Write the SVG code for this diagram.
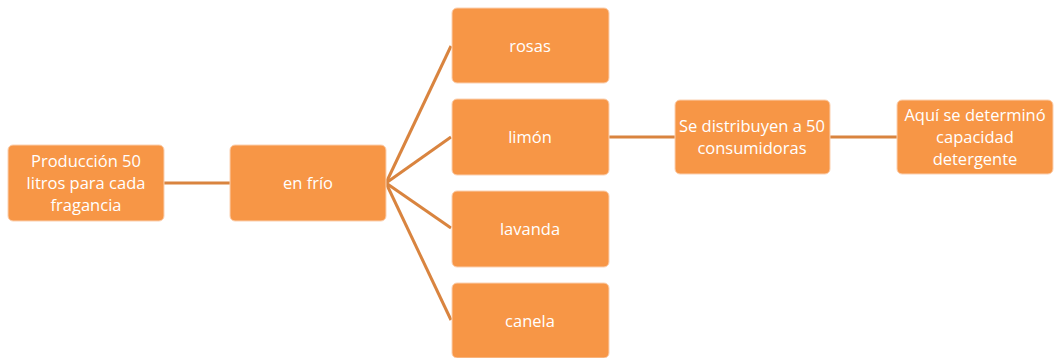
<svg xmlns="http://www.w3.org/2000/svg" width="1055" height="358" viewBox="0 0 1055 358">
<style>
.box{fill:#F79646;stroke:#FBD0B0;stroke-width:1}
.t{fill:#FFFFFF;font-family:"Open Sans","Liberation Sans",sans-serif;font-size:16.5px;text-anchor:middle}
.c{stroke:#D9843F;stroke-width:3;fill:none}
</style>
<rect width="1055" height="358" fill="#FFFFFF"/>
<g id="connectors">
<line class="c" x1="164" y1="183" x2="230" y2="183"/>
<line class="c" x1="386" y1="183" x2="451" y2="46"/>
<line class="c" x1="386" y1="183" x2="451" y2="137"/>
<line class="c" x1="386" y1="183" x2="451" y2="228"/>
<line class="c" x1="386" y1="183" x2="451" y2="320"/>
<line class="c" x1="609" y1="137" x2="675" y2="137"/>
<line class="c" x1="830" y1="137" x2="897" y2="137"/>
</g>
<g id="n-produccion">
<rect class="box" x="8" y="145" width="156" height="76" rx="5"/>
<text class="t" x="86" y="167">Producción 50</text>
<text class="t" x="86" y="189">litros para cada</text>
<text class="t" x="86" y="211">fragancia</text>
</g>
<g id="n-enfrio">
<rect class="box" x="230" y="145" width="156" height="76" rx="5"/>
<text class="t" x="308" y="189">en frío</text>
</g>
<g id="n-rosas">
<rect class="box" x="452" y="8" width="157" height="75" rx="5"/>
<text class="t" x="530" y="52">rosas</text>
</g>
<g id="n-limon">
<rect class="box" x="452" y="99" width="157" height="76" rx="5"/>
<text class="t" x="530" y="143">limón</text>
</g>
<g id="n-lavanda">
<rect class="box" x="452" y="191" width="157" height="76" rx="5"/>
<text class="t" x="530" y="235">lavanda</text>
</g>
<g id="n-canela">
<rect class="box" x="452" y="283" width="157" height="75" rx="5"/>
<text class="t" x="530" y="327">canela</text>
</g>
<g id="n-distribuyen">
<rect class="box" x="675" y="100" width="155" height="74" rx="5"/>
<text class="t" x="752" y="132">Se distribuyen a 50</text>
<text class="t" x="752" y="154">consumidoras</text>
</g>
<g id="n-aqui">
<rect class="box" x="897" y="100" width="156" height="74" rx="5"/>
<text class="t" x="975" y="121">Aquí se determinó</text>
<text class="t" x="975" y="143">capacidad</text>
<text class="t" x="975" y="165">detergente</text>
</g>
</svg>
